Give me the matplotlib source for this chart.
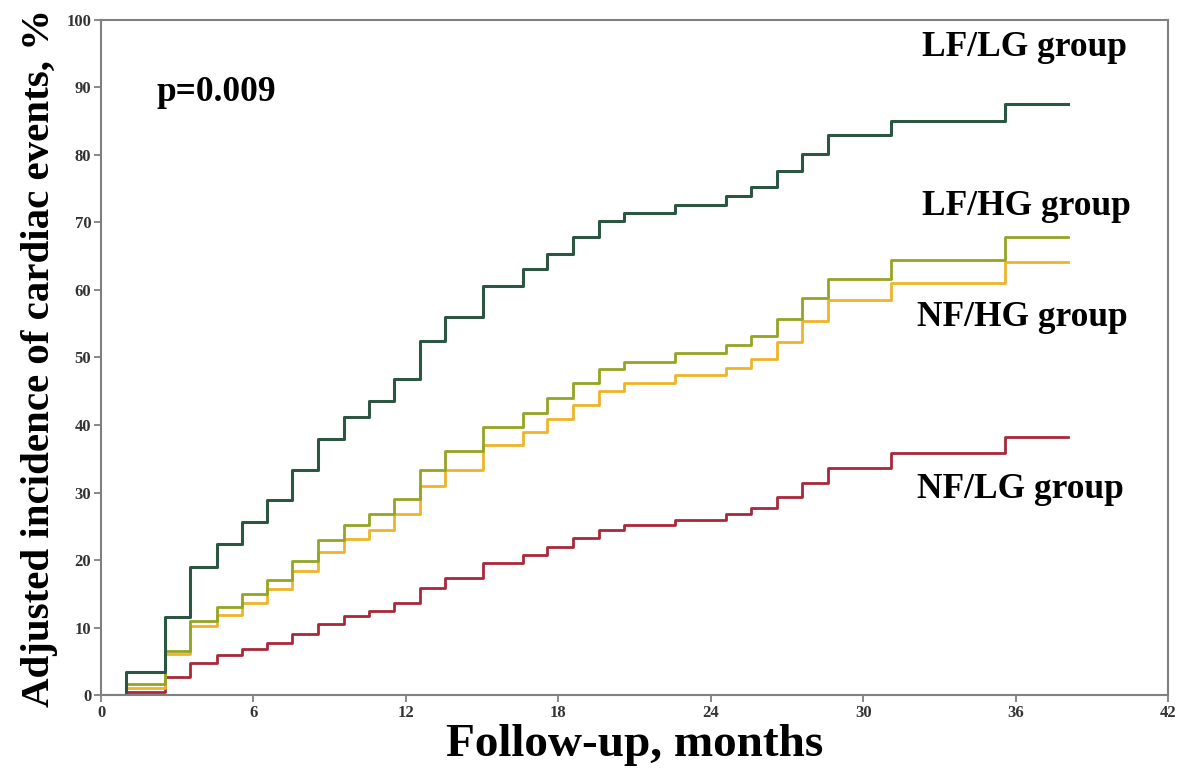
import numpy as np
import matplotlib
matplotlib.use("Agg")
import matplotlib.pyplot as plt

# event times (months) shared by all the adjusted curves, last one is end of follow-up
months = [0, 1.0, 2.5, 3.5, 4.55, 5.55, 6.53, 7.53, 8.55, 9.56, 10.54, 11.55,
          12.57, 13.54, 15.05, 16.6, 17.55, 18.56, 19.6, 20.6, 22.6, 24.6,
          25.6, 26.6, 27.6, 28.6, 31.1, 35.6, 38.07]

lf_lg = [0, 3.45, 11.5, 19.0, 22.4, 25.6, 28.9, 33.4, 37.9, 41.2, 43.5, 46.8,
         52.5, 56.0, 60.6, 63.1, 65.4, 67.8, 70.2, 71.45, 72.6, 73.9, 75.2,
         77.7, 80.2, 83.0, 85.1, 87.6, 87.6]
lf_hg = [0, 1.7, 6.5, 10.9, 13.0, 14.95, 17.0, 19.85, 22.9, 25.2, 26.8, 29.1,
         33.4, 36.1, 39.75, 41.8, 43.95, 46.2, 48.25, 49.4, 50.7, 51.9, 53.2,
         55.7, 58.8, 61.7, 64.4, 67.8, 67.8]
nf_hg = [0, 1.0, 6.1, 10.2, 11.85, 13.7, 15.65, 18.3, 21.2, 23.05, 24.5, 26.8,
         30.95, 33.4, 37.0, 38.9, 40.9, 43.0, 45.1, 46.2, 47.4, 48.5, 49.8,
         52.3, 55.4, 58.5, 61.1, 64.2, 64.2]
nf_lg = [0, 0.5, 2.7, 4.7, 5.9, 6.8, 7.75, 9.0, 10.5, 11.75, 12.45, 13.6,
         15.9, 17.3, 19.5, 20.75, 22.0, 23.2, 24.5, 25.2, 26.0, 26.8, 27.65,
         29.3, 31.35, 33.7, 35.8, 38.2, 38.2]

x_ticks = [0, 6, 12, 18, 24, 30, 36, 42]
y_ticks = [0, 10, 20, 30, 40, 50, 60, 70, 80, 90, 100]

plt.rcParams['font.family'] = ['Liberation Serif', 'DejaVu Serif']

fig = plt.figure(figsize=(11.79, 7.77), dpi=100)
ax = fig.add_axes([0.0857, 0.1055, 0.905, 0.8688])

ax.step(months, nf_lg, where='post', color='#a8283a', lw=2.0)
ax.step(months, nf_hg, where='post', color='#eeb42a', lw=2.0)
ax.step(months, lf_hg, where='post', color='#94a524', lw=2.0)
ax.step(months, lf_lg, where='post', color='#2b5742', lw=2.2)

ax.set_xlim(0, 42)
ax.set_ylim(0, 100)
ax.set_xticks(x_ticks)
ax.set_yticks(y_ticks)
for s in ax.spines.values():
    s.set_color('#808080')
    s.set_linewidth(1.5)
ax.tick_params(direction='out', length=5, width=1.3, color='#808080',
               labelsize=12, labelcolor='#333333', pad=2)
for lab in ax.get_xticklabels() + ax.get_yticklabels():
    lab.set_fontweight('bold')

ax.set_xlabel('Follow-up, months', fontsize=34, fontweight='bold', labelpad=2)
ax.set_ylabel('Adjusted incidence of cardiac events, %', fontsize=29.5,
              fontweight='bold', labelpad=6)

ax.text(2.2, 89.3, 'p=0.009', fontsize=25.5, fontweight='bold', va='center')
ax.text(32.3, 95.9, 'LF/LG group', fontsize=25.5, fontweight='bold', va='center')
ax.text(32.3, 72.3, 'LF/HG group', fontsize=25.5, fontweight='bold', va='center')
ax.text(32.1, 55.9, 'NF/HG group', fontsize=25.5, fontweight='bold', va='center')
ax.text(32.1, 30.4, 'NF/LG group', fontsize=25.5, fontweight='bold', va='center')

fig.savefig('out.png', dpi=100)
